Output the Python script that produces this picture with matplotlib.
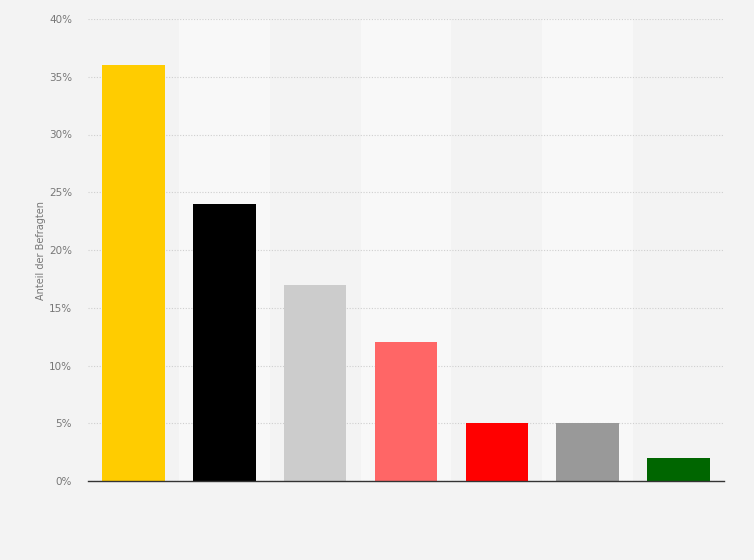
import numpy as np
import matplotlib.pyplot as plt
from matplotlib.ticker import FuncFormatter

# Data
categories = ['A', 'B', 'C', 'D', 'E', 'F', 'G']
values = [36, 24, 17, 12, 5, 5, 2]
colors = ['#ffcc00', '#000000', '#cccccc', '#ff6666', '#ff0000', '#999999', '#006600']
yticks = [0, 5, 10, 15, 20, 25, 30, 35, 40]

bg = '#f3f3f3'

fig = plt.figure(figsize=(7.54, 5.6), dpi=100, facecolor=bg)
ax = fig.add_axes([88 / 754, 79 / 560, 636 / 754, 462 / 560])
ax.set_facecolor(bg)

x = np.arange(len(categories))

# alternating column bands
for i in x:
    if i % 2 == 1:
        ax.axvspan(i - 0.5, i + 0.5, color='#f8f8f8', zorder=0, lw=0)

ax.bar(x, values, width=0.69, color=colors, zorder=3)

ax.set_xlim(-0.5, len(categories) - 0.5)
ax.set_ylim(0, 40)
ax.set_yticks(yticks)
ax.yaxis.set_major_formatter(FuncFormatter(lambda v, p: f'{v:.0f}%'))
ax.set_xticks([])

ax.grid(axis='y', color='#cfcfcf', linestyle=(0, (1, 1.5)), linewidth=0.8, zorder=1)
ax.tick_params(axis='y', length=0, labelsize=7.5, labelcolor='#777777', pad=11.5)

for s in ['top', 'right', 'left']:
    ax.spines[s].set_visible(False)
ax.spines['bottom'].set_color('#333333')
ax.spines['bottom'].set_linewidth(1.0)
ax.spines['bottom'].set_zorder(4)

ax.set_ylabel('Anteil der Befragten', fontsize=7, color='#777777')
ax.yaxis.set_label_coords(-0.066, 0.5)

fig.savefig('out.png', dpi=100, facecolor=bg)
